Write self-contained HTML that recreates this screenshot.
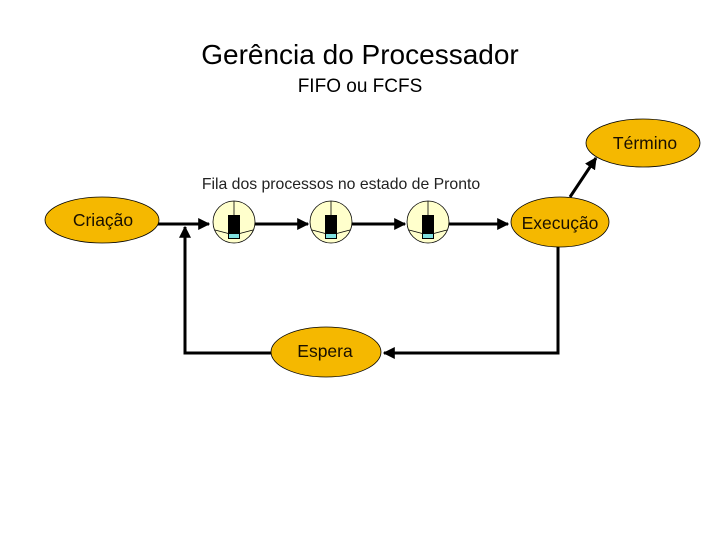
<!DOCTYPE html>
<html><head><meta charset="utf-8"><style>
body{margin:0;background:#fff;}
svg{display:block;font-family:"Liberation Sans",sans-serif;}
</style></head><body>
<svg width="720" height="540" viewBox="0 0 720 540">
<defs>
<marker id="a" viewBox="0 0 10 10" refX="9" refY="5" markerWidth="4" markerHeight="4" orient="auto"><path d="M0,0L10,5L0,10z" fill="#000"/></marker>
<g id="q">
<circle r="21" fill="#ffffcc" stroke="#000" stroke-width="0.8"/>
<line x1="0" y1="0" x2="0" y2="-21" stroke="#000" stroke-width="0.8"/>
<line x1="0" y1="13" x2="-19" y2="8" stroke="#000" stroke-width="0.8"/>
<line x1="0" y1="13" x2="19" y2="8" stroke="#000" stroke-width="0.8"/>
<rect x="-6" y="-7" width="12" height="24" fill="#000"/>
<rect x="-5" y="12" width="10" height="4" fill="#80e0e0"/>
</g>
</defs>
<text x="360" y="64" font-size="28" text-anchor="middle">Gerência do Processador</text>
<text x="360" y="92" font-size="19" text-anchor="middle">FIFO ou FCFS</text>
<text x="341" y="189" font-size="15.8" text-anchor="middle" fill="#222">Fila dos processos no estado de Pronto</text>
<g stroke="#000" stroke-width="3" fill="none">
<line x1="156" y1="224" x2="209" y2="224" marker-end="url(#a)"/>
<line x1="254" y1="224" x2="308" y2="224" marker-end="url(#a)"/>
<line x1="351" y1="224" x2="405" y2="224" marker-end="url(#a)"/>
<line x1="449" y1="224" x2="508" y2="224" marker-end="url(#a)"/>
<polyline points="558,246 558,353 384,353" marker-end="url(#a)"/>
<polyline points="271,353 185,353 185,227" marker-end="url(#a)"/>
<line x1="570" y1="197" x2="596" y2="158" marker-end="url(#a)"/>
</g>
<g fill="#f5b800" stroke="#000" stroke-width="0.8">
<ellipse cx="102" cy="220" rx="57" ry="23"/>
<ellipse cx="560" cy="222" rx="49" ry="25"/>
<ellipse cx="643" cy="143" rx="57" ry="24"/>
<ellipse cx="326" cy="352" rx="55" ry="25"/>
</g>
<use href="#q" x="234" y="222"/>
<use href="#q" x="331" y="222"/>
<use href="#q" x="428" y="222"/>
<g font-size="17.5" text-anchor="middle" fill="#1a1000">
<text x="103" y="226">Criação</text>
<text x="560" y="229">Execução</text>
<text x="645" y="149">Término</text>
<text x="325" y="357">Espera</text>
</g>
</svg>
</body></html>
